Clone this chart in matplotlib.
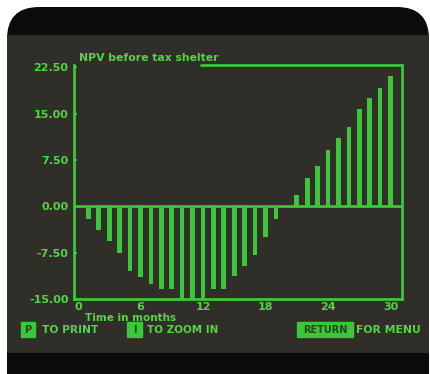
import matplotlib.pyplot as plt
from matplotlib.patches import Rectangle, FancyBboxPatch
from matplotlib.transforms import IdentityTransform

# NPV per month, month 20 sits on zero
months = list(range(1, 31))
npv = [-2.0, -3.8, -5.6, -7.6, -10.5, -11.4, -12.5, -13.4, -13.4, -15.0,
       -15.0, -15.0, -13.4, -13.4, -11.3, -9.6, -7.8, -5.0, -2.0, 0.0,
       1.8, 4.6, 6.5, 9.1, 11.0, 12.9, 15.8, 17.6, 19.2, 21.1]
yticks = [-15.0, -7.5, 0.0, 7.5, 15.0, 22.5]
xticks = [0, 6, 12, 18, 24, 30]

green = "#3cc63c"
text_green = "#55d444"
screen = "#2f2e28"
bezel = "#0b0b0b"
W, H = 431, 374

fig = plt.figure(figsize=(W / 100, H / 100), dpi=100, facecolor="white")

# monitor bezel and screen (pixel coords, origin bottom-left), kept behind the axes
px = IdentityTransform()
fig.patches.append(FancyBboxPatch((7, -40), 422, 407, boxstyle="round,pad=0,rounding_size=32",
                                  fc=bezel, ec="none", transform=px, figure=fig, zorder=-10))
fig.patches.append(Rectangle((7, 21), 422, 318, fc=screen, ec="none", transform=px,
                             figure=fig, zorder=-9))

ax = fig.add_axes([74 / W, 75 / H, 328 / W, 234 / H])
ax.set_facecolor("none")
ax.bar(months, npv, width=0.45, color=green)
ax.axhline(0, color=green, lw=2)
ax.set_xlim(-0.38, 31.1)
ax.set_ylim(-15, 22.9)

for s in ["left", "right", "bottom"]:
    ax.spines[s].set_color(green)
    ax.spines[s].set_linewidth(2)
ax.spines["top"].set_visible(False)
# top border only starts after the title
ax.plot([11.7, 31.1], [22.9, 22.9], color=green, lw=2, clip_on=False, solid_capstyle="butt")

ax.set_yticks(yticks)
ax.set_yticklabels(["%.2f" % v for v in yticks])
ax.set_xticks(xticks)
ax.tick_params(axis="y", direction="in", length=2, width=1.5, color=green, pad=4,
               labelcolor=text_green, labelsize=8)
ax.tick_params(axis="x", length=0, pad=2, labelcolor=text_green, labelsize=8)
for lab in ax.get_xticklabels() + ax.get_yticklabels():
    lab.set_fontweight("bold")

fw = dict(fontweight="bold", color=text_green)
fig.text(79 / W, 1 - 58 / H, "NPV before tax shelter", ha="left", va="center", fontsize=7.8, **fw)
fig.text(131 / W, 1 - 318 / H, "Time in months", ha="center", va="center", fontsize=7.5, **fw)

# key hints at the bottom
dark = "#1d4a1d"
for x0, w, key in [(21, 14, "P"), (127, 15, "I"), (297, 56, "RETURN")]:
    fig.patches.append(Rectangle((x0, H - 337), w, 15, fc=green, ec=green, lw=1,
                                 transform=px, figure=fig, zorder=2))
    fig.text((x0 + w / 2) / W, 1 - 330 / H, key, ha="center", va="center",
             fontsize=7, fontweight="bold", color=dark)
fig.text(42 / W, 1 - 330 / H, "TO PRINT", ha="left", va="center", fontsize=7.7, **fw)
fig.text(147 / W, 1 - 330 / H, "TO ZOOM IN", ha="left", va="center", fontsize=7.5, **fw)
fig.text(356 / W, 1 - 330 / H, "FOR MENU", ha="left", va="center", fontsize=7.8, **fw)

fig.savefig("out.png", dpi=100, facecolor="white")
